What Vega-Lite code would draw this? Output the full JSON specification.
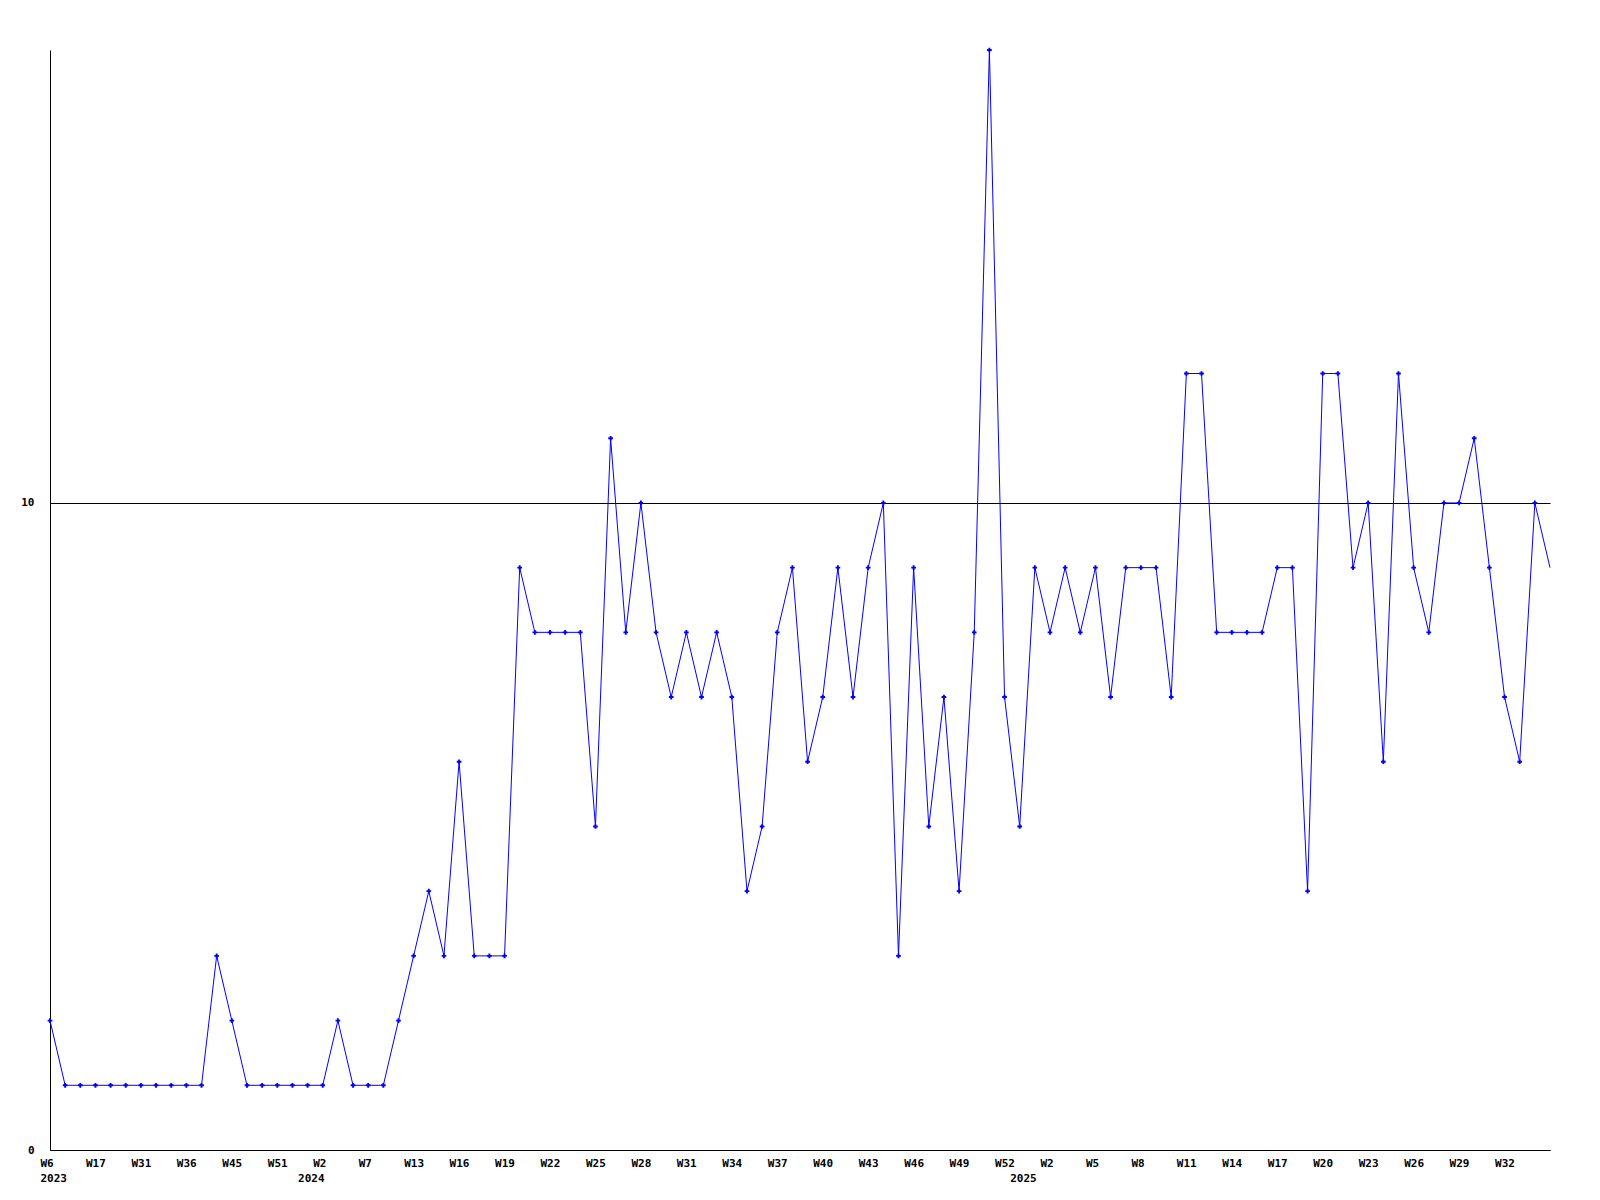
{
  "$schema": "https://vega.github.io/schema/vega-lite/v6.json",
  "autosize": "none",
  "width": 1500,
  "height": 1100,
  "padding": {"left": 50, "top": 50, "right": 50, "bottom": 50},
  "background": "white",
  "config": {
    "view": {"stroke": null},
    "axis": {"labelFont": "DejaVu Sans Mono", "labelFontWeight": "bold", "labelFontSize": 11, "labelColor": "black", "domainColor": "black", "domainWidth": 1, "ticks": false, "title": null}
  },
  "data": {"values": [
    {"week": "2023 W6", "count": 2}, {"week": "2023 W9", "count": 1}, {"week": "2023 W14", "count": 1}, {"week": "2023 W17", "count": 1},
    {"week": "2023 W22", "count": 1}, {"week": "2023 W27", "count": 1}, {"week": "2023 W31", "count": 1}, {"week": "2023 W33", "count": 1},
    {"week": "2023 W35", "count": 1}, {"week": "2023 W36", "count": 1}, {"week": "2023 W39", "count": 1}, {"week": "2023 W42", "count": 3},
    {"week": "2023 W45", "count": 2}, {"week": "2023 W47", "count": 1}, {"week": "2023 W49", "count": 1}, {"week": "2023 W51", "count": 1},
    {"week": "2023 W52", "count": 1}, {"week": "2024 W1", "count": 1}, {"week": "2024 W2", "count": 1}, {"week": "2024 W3", "count": 2},
    {"week": "2024 W5", "count": 1}, {"week": "2024 W7", "count": 1}, {"week": "2024 W9", "count": 1}, {"week": "2024 W11", "count": 2},
    {"week": "2024 W13", "count": 3}, {"week": "2024 W14", "count": 4}, {"week": "2024 W15", "count": 3}, {"week": "2024 W16", "count": 6},
    {"week": "2024 W17", "count": 3}, {"week": "2024 W18", "count": 3}, {"week": "2024 W19", "count": 3}, {"week": "2024 W20", "count": 9},
    {"week": "2024 W21", "count": 8}, {"week": "2024 W22", "count": 8}, {"week": "2024 W23", "count": 8}, {"week": "2024 W24", "count": 8},
    {"week": "2024 W25", "count": 5}, {"week": "2024 W26", "count": 11}, {"week": "2024 W27", "count": 8}, {"week": "2024 W28", "count": 10},
    {"week": "2024 W29", "count": 8}, {"week": "2024 W30", "count": 7}, {"week": "2024 W31", "count": 8}, {"week": "2024 W32", "count": 7},
    {"week": "2024 W33", "count": 8}, {"week": "2024 W34", "count": 7}, {"week": "2024 W35", "count": 4}, {"week": "2024 W36", "count": 5},
    {"week": "2024 W37", "count": 8}, {"week": "2024 W38", "count": 9}, {"week": "2024 W39", "count": 6}, {"week": "2024 W40", "count": 7},
    {"week": "2024 W41", "count": 9}, {"week": "2024 W42", "count": 7}, {"week": "2024 W43", "count": 9}, {"week": "2024 W44", "count": 10},
    {"week": "2024 W45", "count": 3}, {"week": "2024 W46", "count": 9}, {"week": "2024 W47", "count": 5}, {"week": "2024 W48", "count": 7},
    {"week": "2024 W49", "count": 4}, {"week": "2024 W50", "count": 8}, {"week": "2024 W51", "count": 17}, {"week": "2024 W52", "count": 7},
    {"week": "2025 W0", "count": 5}, {"week": "2025 W1", "count": 9}, {"week": "2025 W2", "count": 8}, {"week": "2025 W3", "count": 9},
    {"week": "2025 W4", "count": 8}, {"week": "2025 W5", "count": 9}, {"week": "2025 W6", "count": 7}, {"week": "2025 W7", "count": 9},
    {"week": "2025 W8", "count": 9}, {"week": "2025 W9", "count": 9}, {"week": "2025 W10", "count": 7}, {"week": "2025 W11", "count": 12},
    {"week": "2025 W12", "count": 12}, {"week": "2025 W13", "count": 8}, {"week": "2025 W14", "count": 8}, {"week": "2025 W15", "count": 8},
    {"week": "2025 W16", "count": 8}, {"week": "2025 W17", "count": 9}, {"week": "2025 W18", "count": 9}, {"week": "2025 W19", "count": 4},
    {"week": "2025 W20", "count": 12}, {"week": "2025 W21", "count": 12}, {"week": "2025 W22", "count": 9}, {"week": "2025 W23", "count": 10},
    {"week": "2025 W24", "count": 6}, {"week": "2025 W25", "count": 12}, {"week": "2025 W26", "count": 9}, {"week": "2025 W27", "count": 8},
    {"week": "2025 W28", "count": 10}, {"week": "2025 W29", "count": 10}, {"week": "2025 W30", "count": 11}, {"week": "2025 W31", "count": 9},
    {"week": "2025 W32", "count": 7}, {"week": "2025 W33", "count": 6}, {"week": "2025 W34", "count": 10}, {"week": "2025 W35", "count": 9}
  ]},
  "encoding": {
    "x": {
      "field": "week", "type": "ordinal", "sort": null,
      "scale": {"type": "point", "padding": 0},
      "axis": {
        "values": ["2023 W6","2023 W17","2023 W31","2023 W36","2023 W45","2023 W51","2024 W1","2024 W2","2024 W7","2024 W13","2024 W16","2024 W19","2024 W22","2024 W25","2024 W28","2024 W31","2024 W34","2024 W37","2024 W40","2024 W43","2024 W46","2024 W49","2024 W52","2025 W0","2025 W2","2025 W5","2025 W8","2025 W11","2025 W14","2025 W17","2025 W20","2025 W23","2025 W26","2025 W29","2025 W32"],
        "labelExpr": "datum.value == '2023 W6' ? ['W6', '2023'] : (datum.value == '2024 W1' || datum.value == '2025 W0') ? [' ', split(datum.value, ' ')[0]] : split(datum.value, ' ')[1]",
        "labelAlign": "left",
        "labelOffset": -10,
        "labelBaseline": "top",
        "labelPadding": 7,
        "labelLineHeight": 15,
        "labelOverlap": false,
        "labelFlush": false,
        "labelAngle": 0,
        "grid": false
      }
    },
    "y": {
      "field": "count", "type": "quantitative",
      "scale": {"domain": [0, 17], "nice": false, "zero": true},
      "axis": {"values": [0, 10], "grid": true, "gridColor": "black", "gridOpacity": 1, "gridWidth": 1, "labelPadding": 16}
    }
  },
  "layer": [
    {"mark": {"type": "line", "color": "#0000ff", "strokeWidth": 1}},
    {"transform": [{"filter": "datum.week !== '2025 W35'"}],
     "mark": {"type": "point", "shape": "cross", "filled": true, "size": 22, "color": "#0000ff", "opacity": 1}}
  ]
}
